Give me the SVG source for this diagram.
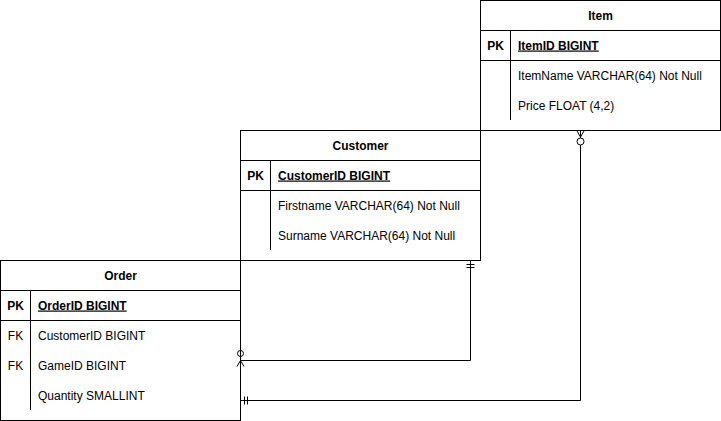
<svg xmlns="http://www.w3.org/2000/svg" width="721" height="421" viewBox="0 0 721 421">
<style>
.box{fill:#fff;stroke:#000;stroke-width:1}
.ln{stroke:#000;stroke-width:1;fill:none}
text{font-family:"Liberation Sans",Arial,sans-serif;font-size:12px;fill:#000}
.t{font-weight:bold;text-anchor:middle}
.k{font-weight:bold;text-anchor:middle}
.kn{text-anchor:middle}
.pk{font-weight:bold;text-decoration:underline}
</style>
<rect width="721" height="421" fill="#fff"/>
<g id="item">
<rect class="box" x="480.5" y="0.5" width="240" height="130"/>
<line class="ln" x1="480.5" y1="30.5" x2="720.5" y2="30.5"/>
<line class="ln" x1="480.5" y1="60.5" x2="720.5" y2="60.5"/>
<line class="ln" x1="510.5" y1="30.5" x2="510.5" y2="120"/>
<text class="t" x="600.5" y="19.5">Item</text>
<text class="k" x="495.5" y="49.5">PK</text>
<text class="pk" x="518" y="49.5">ItemID BIGINT</text>
<text x="518" y="79.5">ItemName VARCHAR(64) Not Null</text>
<text x="518" y="109.5">Price FLOAT (4,2)</text>
</g>
<g id="customer">
<rect class="box" x="240.5" y="130.5" width="240" height="130"/>
<line class="ln" x1="240.5" y1="160.5" x2="480.5" y2="160.5"/>
<line class="ln" x1="240.5" y1="190.5" x2="480.5" y2="190.5"/>
<line class="ln" x1="270.5" y1="160.5" x2="270.5" y2="250"/>
<text class="t" x="360.5" y="149.5">Customer</text>
<text class="k" x="255.5" y="179.5">PK</text>
<text class="pk" x="278" y="179.5">CustomerID BIGINT</text>
<text x="278" y="209.5">Firstname VARCHAR(64) Not Null</text>
<text x="278" y="239.5">Surname VARCHAR(64) Not Null</text>
</g>
<g id="order">
<rect class="box" x="0.5" y="260.5" width="240" height="160"/>
<line class="ln" x1="0.5" y1="290.5" x2="240.5" y2="290.5"/>
<line class="ln" x1="0.5" y1="320.5" x2="240.5" y2="320.5"/>
<line class="ln" x1="30.5" y1="290.5" x2="30.5" y2="410"/>
<text class="t" x="120.5" y="279.5">Order</text>
<text class="k" x="15.5" y="309.5">PK</text>
<text class="pk" x="38" y="309.5">OrderID BIGINT</text>
<text class="kn" x="15.5" y="339.5">FK</text>
<text x="38" y="339.5">CustomerID BIGINT</text>
<text class="kn" x="15.5" y="369.5">FK</text>
<text x="38" y="369.5">GameID BIGINT</text>
<text x="38" y="399.5">Quantity SMALLINT</text>
</g>
<g id="connectors">
<path class="ln" d="M470.5 261V360.5H241"/>
<line class="ln" x1="466.5" y1="264.5" x2="474.5" y2="264.5"/>
<line class="ln" x1="466.5" y1="267.5" x2="474.5" y2="267.5"/>
<circle class="ln" cx="240.5" cy="353.5" r="3"/>
<path class="ln" d="M237 366.5L240.5 360.5L244 366.5"/>
<path class="ln" d="M580.5 145V400.5H241"/>
<circle class="ln" cx="580.5" cy="141.5" r="3.5"/>
<path class="ln" d="M577 131L580.5 137L584 131M580.5 131V138"/>
<line class="ln" x1="244.5" y1="396.5" x2="244.5" y2="404.5"/>
<line class="ln" x1="247.5" y1="396.5" x2="247.5" y2="404.5"/>
</g>
</svg>
